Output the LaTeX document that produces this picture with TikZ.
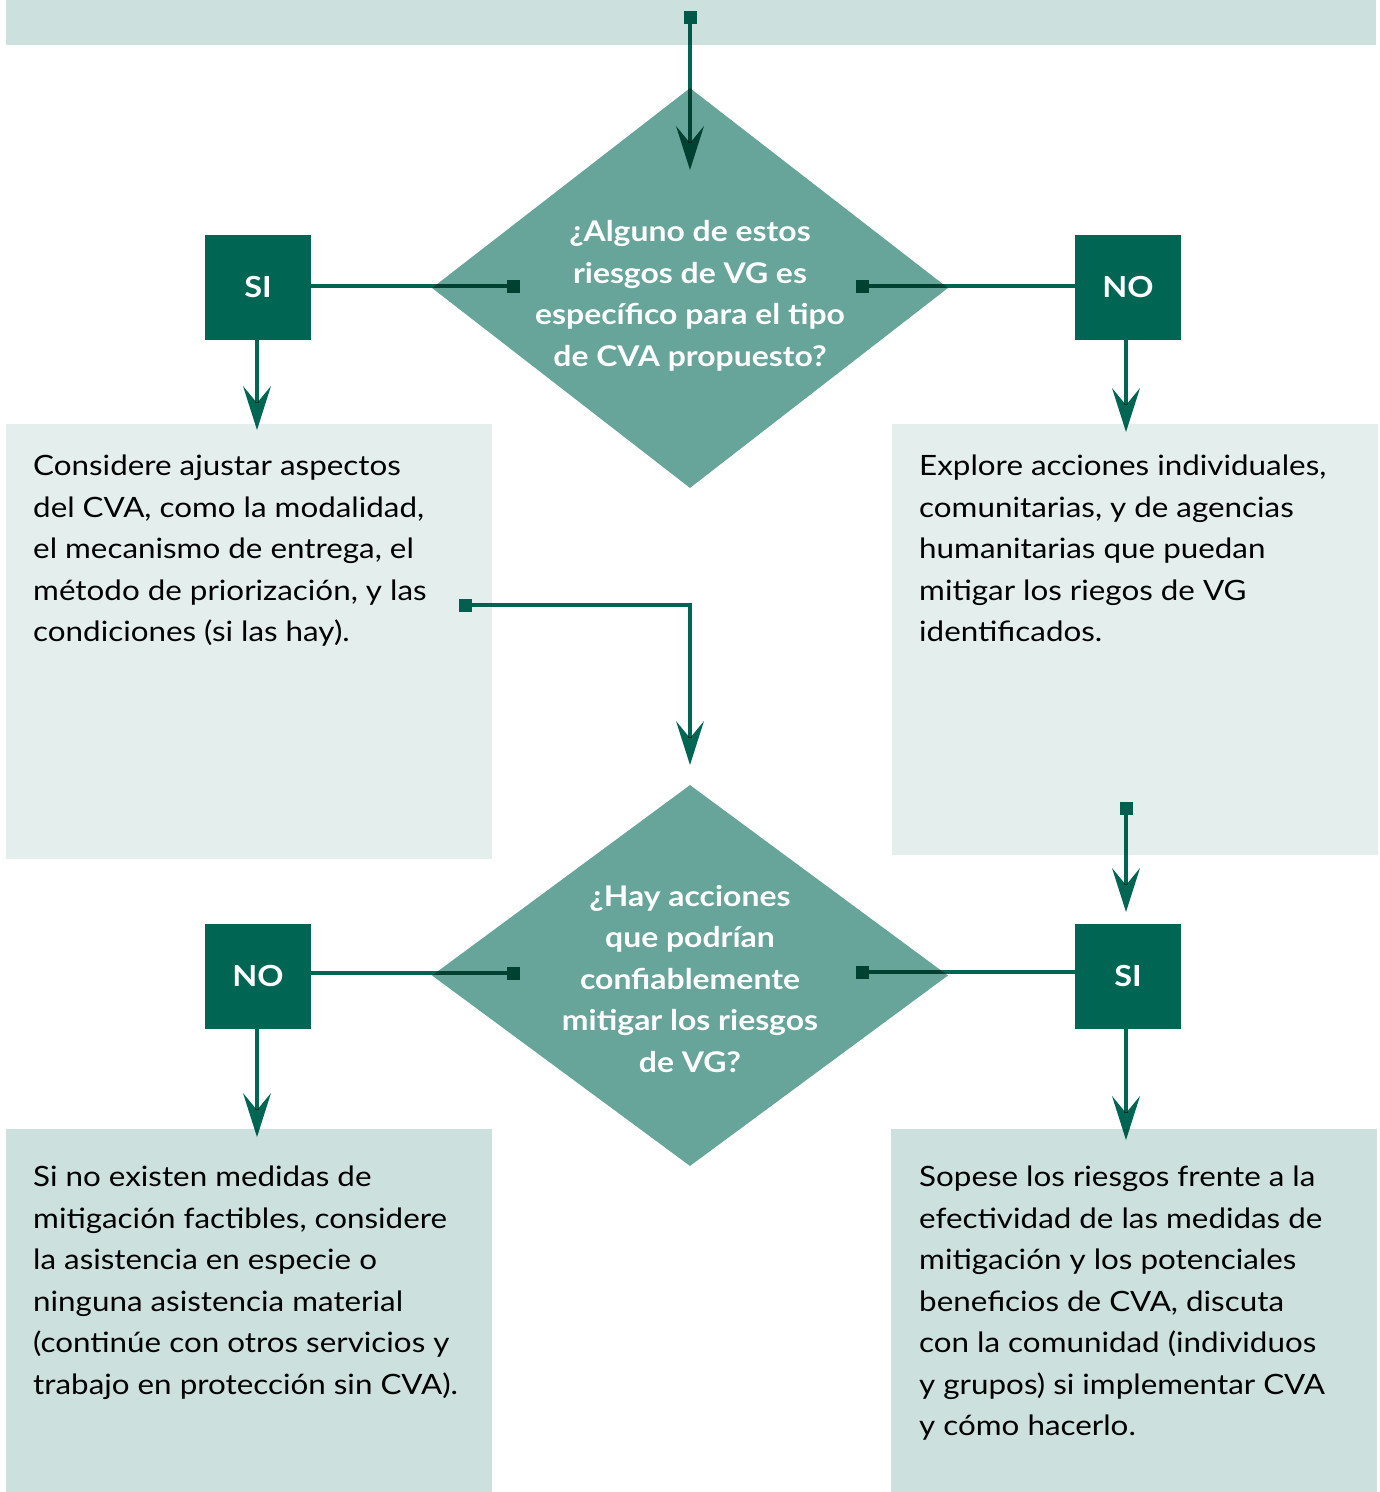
\documentclass[tikz,border=0pt]{standalone}
\usepackage{fontspec}
\setmainfont{Lato}[FakeStretch=1.12]
\usepackage{tikz}
\usetikzlibrary{arrows.meta,shapes.geometric}
\definecolor{cvadark}{RGB}{0,102,84}
\definecolor{cvamid}{RGB}{103,164,154}
\definecolor{cvapale}{RGB}{228,239,237}
\definecolor{cvalight}{RGB}{204,224,221}
\tikzset{panel/.style={rectangle,fill=#1,draw=none,anchor=north west,inner sep=0pt,minimum width=486pt},
         panel/.default=cvapale,
         decision/.style={diamond,fill=cvamid,draw=none,inner sep=0pt,minimum width=516pt},
         question/.style={text=white,align=center,inner sep=0pt,
           font=\fontsize{28.5}{41.5}\selectfont\bfseries},
         answer/.style={rectangle,fill=cvadark,text=white,inner sep=0pt,
           minimum width=106pt,minimum height=105pt,font=\fontsize{29}{34}\selectfont\bfseries},
         body/.style={anchor=north west,align=left,inner sep=0pt,
           font=\fontsize{28}{41.5}\selectfont},
         link/.style={draw=cvadark,line width=4pt,{Square[length=13pt,width=13pt,line width=0pt]}-},
         linkarrow/.style={draw=cvadark,line width=4pt,
           {Square[length=13pt,width=13pt,line width=0pt]}-{Stealth[length=44pt,width=28pt,inset=17pt,line width=0pt]}},
         arrow/.style={draw=cvadark,line width=4pt,-{Stealth[length=44pt,width=28pt,inset=17pt,line width=0pt]}}}

\begin{document}
\begin{tikzpicture}[x=1pt,y=-1pt]
  \useasboundingbox (0,0) rectangle (1380,1492);
  % panels
  \node[panel=cvalight,minimum width=1370pt,minimum height=45pt] (top) at (6,0) {};
  \node[panel,minimum height=435pt] (adjust) at (6,424) {};
  \node[panel,minimum height=431pt] (explore) at (892,424) {};
  \node[panel=cvalight,minimum height=363pt] (inkind) at (6,1129) {};
  \node[panel=cvalight,minimum height=363pt] (weigh) at (891,1129) {};

  % questions
  \node[decision,minimum height=400pt] (q1) at (690,288) {};
  \node[question] (q1text) at (690,296) {¿Alguno de estos\\riesgos de VG es\\específico para el tipo\\de CVA propuesto?};
  \node[decision,minimum height=381pt] (q2) at (690,975.5) {};
  \node[question] (q2text) at (690,979) {¿Hay acciones\\que podrían\\confiablemente\\mitigar los riesgos\\de VG?};

  % answers
  \node[answer] (si1) at (258,287.5) {SI};
  \node[answer] (no1) at (1128,287.5) {NO};
  \node[answer] (no2) at (258,976.5) {NO};
  \node[answer] (si2) at (1128,976.5) {SI};

  % texts
  \node[body] (adjusttext) at (33,455) {Considere ajustar aspectos\\del CVA, como la modalidad,\\el mecanismo de entrega, el\\método de priorización, y las\\condiciones (si las hay).};
  \node[body] (exploretext) at (919,455) {Explore acciones individuales,\\comunitarias, y de agencias\\humanitarias que puedan\\mitigar los riegos de VG\\identificados.};
  \node[body] (inkindtext) at (33,1166) {Si no existen medidas de\\mitigación factibles, considere\\la asistencia en especie o\\ninguna asistencia material\\(continúe con otros servicios y\\trabajo en protección sin CVA).};
  \node[body] (weightext) at (919,1166) {Sopese los riesgos frente a la\\efectividad de las medidas de\\mitigación y los potenciales\\beneficios de CVA, discuta\\con la comunidad (individuos\\y grupos) si implementar CVA\\y cómo hacerlo.};

  % connector ends
  \coordinate (s0) at (690,11);   \coordinate (t0) at (690,170);
  \coordinate (s1) at (520,286);  \coordinate (s2) at (856,286);
  \coordinate (t1) at (257,430);  \coordinate (t2) at (1126,432);
  \coordinate (s3) at (459,605);  \coordinate (t3) at (690,765);
  \coordinate (s4) at (1126,802); \coordinate (t4) at (1126,912);
  \coordinate (s5) at (520,973);  \coordinate (s6) at (856,972);
  \coordinate (t5) at (257,1137); \coordinate (t6) at (1126,1140);

  \begin{scope}[blend mode=multiply]
    \draw[linkarrow] (s0) -- (t0);
    \draw[link] (s1) -- (s1 -| si1.east);
    \draw[link] (s2) -- (s2 -| no1.west);
    \draw[arrow] (si1.south -| t1) -- (t1);
    \draw[arrow] (no1.south -| t2) -- (t2);
    \draw[linkarrow] (s3) -| (t3);
    \draw[linkarrow] (s4) -- (t4);
    \draw[link] (s5) -- (s5 -| no2.east);
    \draw[link] (s6) -- (s6 -| si2.west);
    \draw[arrow] (no2.south -| t5) -- (t5);
    \draw[arrow] (si2.south -| t6) -- (t6);
  \end{scope}
\end{tikzpicture}
\end{document}
